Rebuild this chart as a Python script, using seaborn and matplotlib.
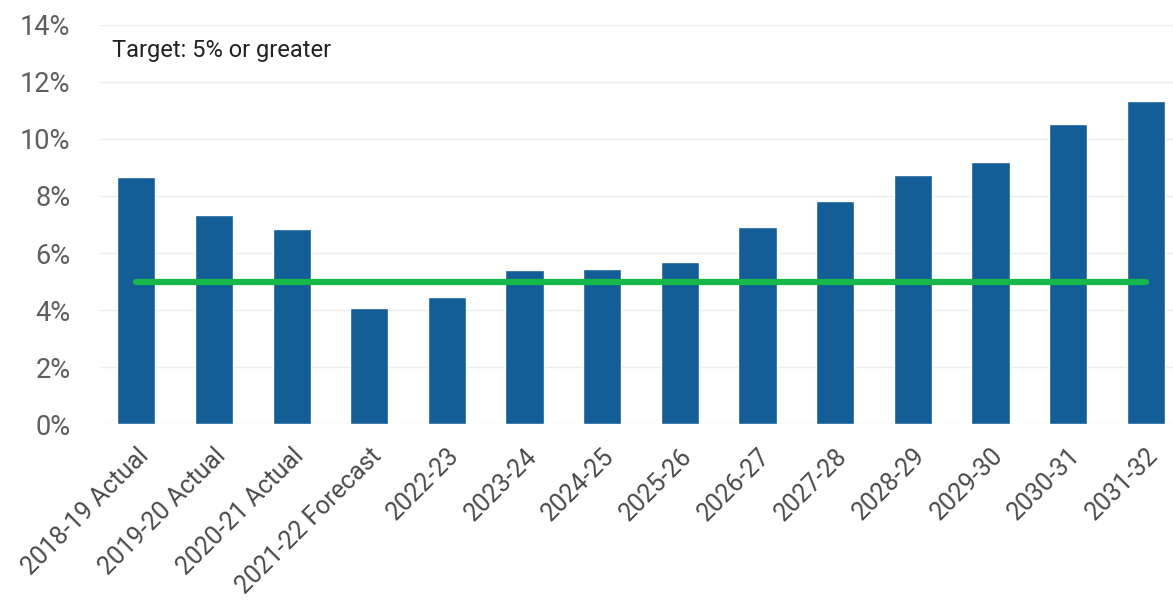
import matplotlib
matplotlib.use("Agg")
import matplotlib.pyplot as plt
import seaborn as sns
import pandas as pd
from matplotlib.ticker import FuncFormatter

categories = ["2018-19 Actual", "2019-20 Actual", "2020-21 Actual", "2021-22 Forecast",
              "2022-23", "2023-24", "2024-25", "2025-26", "2026-27", "2027-28",
              "2028-29", "2029-30", "2030-31", "2031-32"]
values = [8.67, 7.33, 6.84, 4.07, 4.47, 5.40, 5.44, 5.68, 6.92, 7.82, 8.74, 9.20, 10.53, 11.34]
target = 5.0
y_ticks = [0, 2, 4, 6, 8, 10, 12, 14]
annotation = "Target: 5% or greater"

sns.set_theme(style="white")
plt.rcParams['font.family'] = ['Roboto', 'DejaVu Sans']

df = pd.DataFrame({"year": categories, "value": values})

fig = plt.figure(figsize=(11.73, 6.06), dpi=100)
ax = fig.add_axes([0.085, 0.300, 0.915, 0.659])

sns.barplot(data=df, x="year", y="value", color="#135E96", saturation=1,
            width=0.49, ax=ax, zorder=2)

sns.lineplot(x=[0, len(categories) - 1], y=[target, target], color="#16B84A",
             linewidth=4.5, ax=ax, zorder=3)

ax.set_ylim(0, 14)
ax.set_xlim(-0.47, 13.35)
ax.set_yticks(y_ticks)
ax.yaxis.set_major_formatter(FuncFormatter(lambda v, p: f"{int(v)}%"))
ax.grid(axis="y", color="#EDEDED", linewidth=1)
ax.set_axisbelow(True)
for s in ax.spines.values():
    s.set_visible(False)
ax.set_xlabel("")
ax.set_ylabel("")
ax.tick_params(axis="y", labelsize=19.5, labelcolor="#5E5E5E", pad=21, length=0)
ax.tick_params(axis="x", labelsize=18, labelcolor="#4A4A4A", pad=14, length=0)
plt.setp(ax.get_xticklabels(), rotation=45, ha="right", rotation_mode="anchor")

ax.text(0.011, 0.935, annotation, transform=ax.transAxes, fontsize=17,
        color="#222222", va="center", ha="left")

fig.savefig("out.png", dpi=100, facecolor="white")
